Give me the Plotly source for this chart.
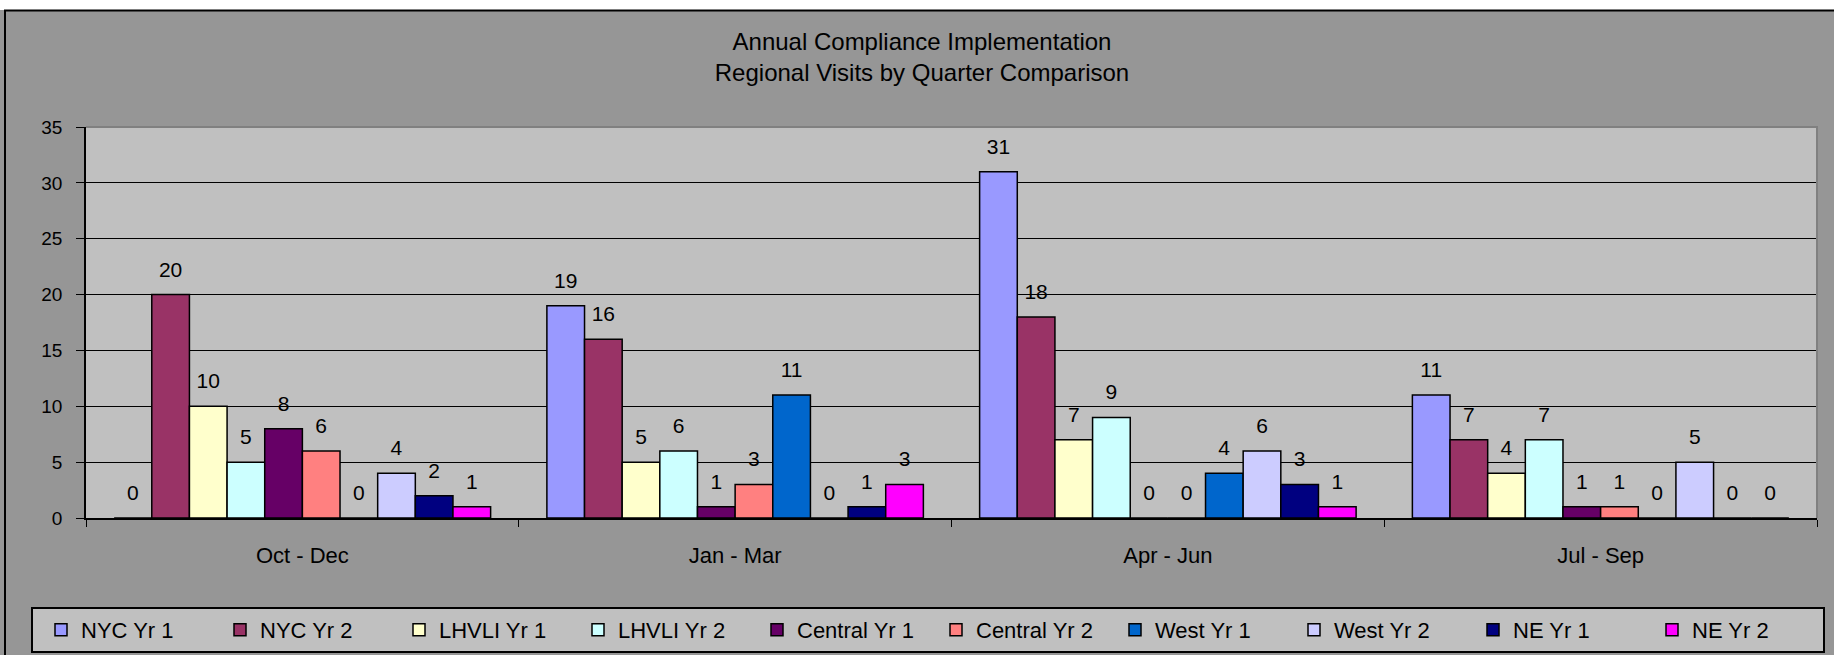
import plotly.graph_objects as go

# =====================================
# Datos
# =====================================

quarters = ["Oct - Dec", "Jan - Mar", "Apr - Jun", "Jul - Sep"]

nyc_yr1 = [0, 19, 31, 11]
nyc_yr2 = [20, 16, 18, 7]
lhvli_yr1 = [10, 5, 7, 4]
lhvli_yr2 = [5, 6, 9, 7]
central_yr1 = [8, 1, 0, 1]
central_yr2 = [6, 3, 0, 1]
west_yr1 = [0, 11, 4, 0]
west_yr2 = [4, 0, 6, 5]
ne_yr1 = [2, 1, 3, 0]
ne_yr2 = [1, 3, 1, 0]

series_names = [
    "NYC Yr 1", "NYC Yr 2", "LHVLI Yr 1", "LHVLI Yr 2", "Central Yr 1",
    "Central Yr 2", "West Yr 1", "West Yr 2", "NE Yr 1", "NE Yr 2"
]

series_values = [
    nyc_yr1, nyc_yr2, lhvli_yr1, lhvli_yr2, central_yr1,
    central_yr2, west_yr1, west_yr2, ne_yr1, ne_yr2
]

series_colors = [
    "#9999FF", "#993366", "#FFFFCC", "#CCFFFF", "#660066",
    "#FF8080", "#0066CC", "#CCCCFF", "#000080", "#FF00FF"
]

y_ticks = [0, 5, 10, 15, 20, 25, 30, 35]

# =====================================
# Geometria (pixeles)
# =====================================

W, H = 1834, 655
L, R, T, B = 86, 17, 127, 137
PW, PH = W - L - R, H - T - B

FONT = "Liberation Sans, Arial, sans-serif"


def px_x(p):
    return (p - L) / PW


def px_y(p):
    return (H - B - p) / PH


# =====================================
# Crear figura
# =====================================

fig = go.Figure()

for name, vals, col in zip(series_names, series_values, series_colors):

    fig.add_trace(

        go.Bar(

            x=quarters,

            y=vals,

            name=name,

            marker=dict(color=col, line=dict(color="black", width=1.5)),

            texttemplate="<span style='font-size:21px'>%{y}</span><br>\u00a0",

            textposition="outside",

            textfont=dict(size=10, color="black", family=FONT),

            constraintext="none",

            cliponaxis=False

        )

    )

fig.update_layout(

    width=W,

    height=H,

    barmode="group",

    bargap=0.13,

    bargroupgap=0,

    paper_bgcolor="#969696",

    plot_bgcolor="#C0C0C0",

    font=dict(family=FONT, color="black"),

    margin=dict(l=L, r=R, t=T, b=B, autoexpand=False),

    title=dict(

        text="Annual Compliance Implementation<br>Regional Visits by Quarter Comparison",

        font=dict(size=24, color="black", family=FONT),

        xref="container",

        x=922 / W,

        xanchor="center",

        yref="container",

        y=1 - 50 / H,

        yanchor="middle"

    ),

    xaxis=dict(

        showline=True,

        linecolor="black",

        linewidth=1.5,

        ticks="outside",

        tickson="boundaries",

        ticklen=7,

        tickcolor="black",

        tickfont=dict(size=22),

        ticklabelstandoff=17,

        showgrid=False

    ),

    yaxis=dict(

        range=[0, 35],

        tickvals=y_ticks,

        showline=True,

        linecolor="black",

        linewidth=1.5,

        ticks="outside",

        ticklen=8,

        tickcolor="black",

        tickfont=dict(size=19),

        ticklabelstandoff=10,

        showgrid=True,

        gridcolor="black",

        gridwidth=1.2,

        zeroline=False

    ),

    legend=dict(

        orientation="h",

        xref="paper",

        yref="paper",

        x=px_x(31),

        y=px_y(607),

        xanchor="left",

        yanchor="top",

        bgcolor="#C0C0C0",

        bordercolor="black",

        borderwidth=2,

        font=dict(size=22),

        entrywidth=126,

        entrywidthmode="pixels",

        indentation=8,

        traceorder="normal"

    ),

    shapes=[

        # franja blanca superior
        dict(type="rect", xref="paper", yref="paper",
             x0=px_x(-20), x1=px_x(W + 20), y0=px_y(10), y1=px_y(-20),
             fillcolor="white", line=dict(width=0), layer="below"),

        # borde del area del grafico
        dict(type="rect", xref="paper", yref="paper",
             x0=px_x(5), x1=px_x(W + 20), y0=px_y(H + 20), y1=px_y(10.5),
             fillcolor="rgba(0,0,0,0)", line=dict(color="black", width=2),
             layer="below"),

        # borde gris superior y derecho del area de trazado
        dict(type="path", xref="paper", yref="paper",
             path="M 0 1 L 1 1 L 1 0",
             line=dict(color="#808080", width=2), layer="above")

    ]

)

fig.write_html(

    "out.html",

    config={"displayModeBar": False},

    post_script="document.body.style.margin='0';document.body.style.overflow='hidden';"

)
